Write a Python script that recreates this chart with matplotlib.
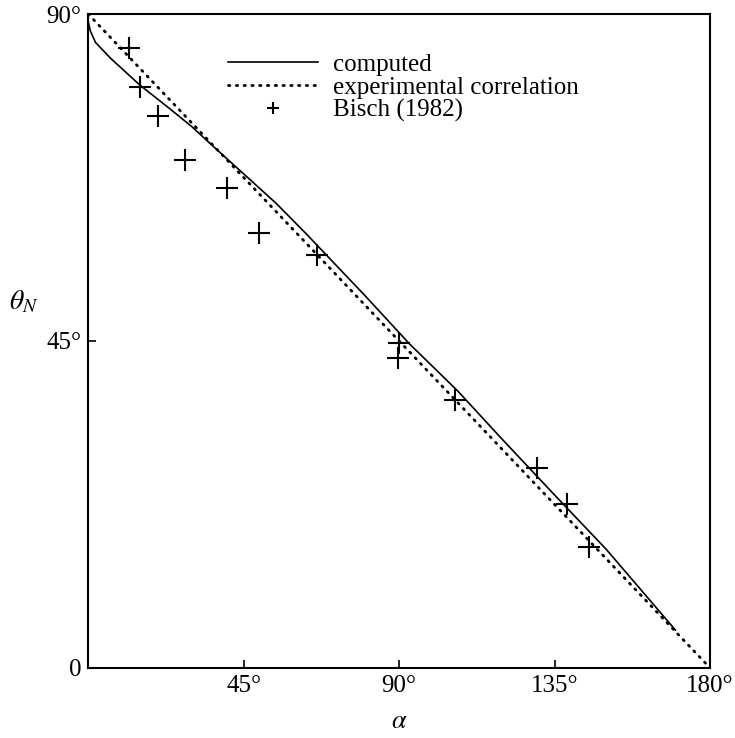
import matplotlib

matplotlib.use("Agg")
import matplotlib.pyplot as plt

# computed curve
computed_alpha = [0, 0.6, 2.1, 6.5, 15, 23, 30, 35, 45, 54.5, 63, 68, 80, 93, 107, 119, 135, 150, 170]
computed_theta = [89.0, 87.7, 86.1, 83.9, 80.2, 77.2, 74.5, 72.3, 68.0, 63.9, 59.8, 57.3, 51.3, 44.6, 38.1, 31.9, 23.8, 16.3, 5.2]

# experimental correlation (straight line end to end)
corr_alpha = [0, 180]
corr_theta = [90, 0]

# Bisch (1982) measurements
bisch_alpha = [11.9, 14.9, 20.1, 28.0, 40.2, 49.5, 66.2, 90.0, 89.8, 106.2, 130.0, 138.7, 145.1]
bisch_theta = [85.3, 80.0, 76.0, 69.9, 66.1, 59.9, 56.8, 44.7, 42.6, 36.9, 27.5, 22.6, 16.7]

x_ticks = [45, 90, 135, 180]
x_labels = ["45°", "90°", "135°", "180°"]
y_ticks = [0, 45, 90]
y_labels = ["0", "45°", "90°"]

plt.rcParams["font.family"] = ["Liberation Serif", "DejaVu Serif"]
plt.rcParams["mathtext.fontset"] = "stix"

fig = plt.figure(figsize=(7.35, 7.38), dpi=100)
ax = fig.add_axes([0.120, 0.095, 0.846, 0.886])

ax.plot(computed_alpha, computed_theta, color="black", lw=1.2, label="computed")
ax.plot(corr_alpha, corr_theta, color="black", lw=2.0,
        linestyle=(0, (0.5, 2.3)), dash_capstyle="round",
        label="experimental correlation")
ax.plot(bisch_alpha, bisch_theta, linestyle="none", marker="+", color="black",
        markersize=16, markeredgewidth=1.5, label="Bisch (1982)")

ax.set_xlim(0, 180)
ax.set_ylim(0, 90)
ax.set_xticks(x_ticks)
ax.set_xticklabels(x_labels)
ax.set_yticks(y_ticks)
ax.set_yticklabels(y_labels)
ax.tick_params(direction="in", length=6, width=1.2, labelsize=18,
               top=False, right=False, pad=5)
for spine in ax.spines.values():
    spine.set_linewidth(1.5)

ax.set_xlabel(r"$\alpha$", fontsize=19, labelpad=10)
fig.text(0.032, 1 - 302 / 738, r"$\theta_N$", fontsize=20, ha="center", va="center")

leg = ax.legend(loc="upper left", bbox_to_anchor=(0.225, 0.940), frameon=False,
                fontsize=18, handlelength=3.6, handletextpad=0.6,
                labelspacing=0.02, borderpad=0, borderaxespad=0)
leg.legend_handles[2].set_markersize(9)

fig.savefig("out.png", dpi=100)
